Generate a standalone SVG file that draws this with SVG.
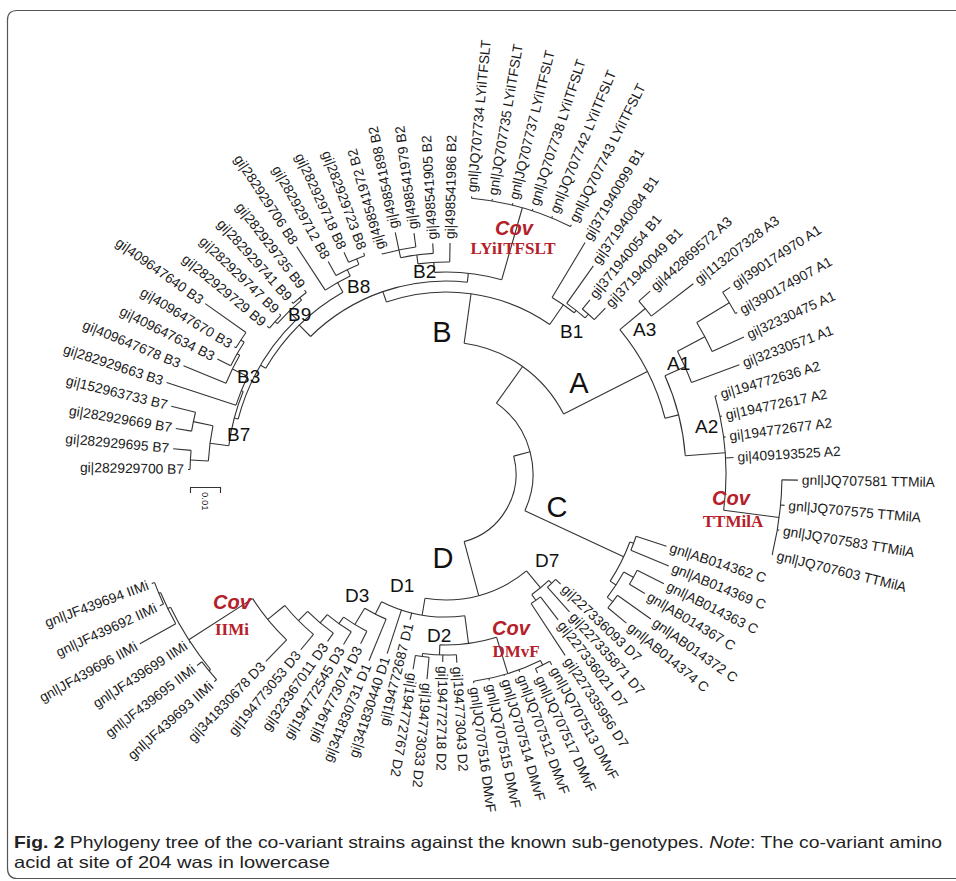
<svg xmlns="http://www.w3.org/2000/svg" width="956" height="881" viewBox="0 0 956 881">
<style>
.br line,.br circle{fill:none;stroke:#333;stroke-width:1.1}
.l{font-family:"Liberation Sans",Arial,sans-serif;font-size:13.8px;fill:#1a1a1a;dominant-baseline:central}
.e{text-anchor:end}
.cl{font-family:"Liberation Sans",Arial,sans-serif;font-size:29px;fill:#111;text-anchor:middle}
.sl{font-family:"Liberation Sans",Arial,sans-serif;font-size:19px;fill:#111}
.cov{font-family:"Liberation Sans",Arial,sans-serif;font-size:20px;font-weight:bold;font-style:italic;fill:#b5202a;text-anchor:middle}
.cv2{font-family:"Liberation Serif","Times New Roman",serif;font-size:17px;font-weight:bold;fill:#b5202a;text-anchor:middle}
.cap{font-family:"Liberation Sans",Arial,sans-serif;font-size:16.5px;fill:#222}
</style>
<rect width="956" height="881" fill="#fff"/>
<path d="M956,10.5 H17 Q7.5,10.5 7.5,20 V868 Q7.5,878.5 17,878.5 H956" fill="none" stroke="#555" stroke-width="1.2"/>
<g transform="translate(446,474)">
<g id="connectors" class="br">
<circle r="70" pathLength="360" stroke-dasharray="89.72 999" transform="rotate(-14.77)"/>
<circle r="87" pathLength="360" stroke-dasharray="79.54 999" transform="rotate(-54.54)"/>
<circle r="132" pathLength="360" stroke-dasharray="55.11 999" transform="rotate(-82.1)"/>
<circle r="182" pathLength="360" stroke-dasharray="53.85 999" transform="rotate(250.9)"/>
<circle r="193" pathLength="360" stroke-dasharray="50.92 999" transform="rotate(225.43)"/>
<circle r="209" pathLength="360" stroke-dasharray="30.06 999" transform="rotate(210.4)"/>
<circle r="215" pathLength="360" stroke-dasharray="31.2 999" transform="rotate(194.8)"/>
<circle r="219" pathLength="360" stroke-dasharray="14.73 999" transform="rotate(187.43)"/>
<circle r="238" pathLength="360" stroke-dasharray="8.57 999" transform="rotate(183.14)"/>
<circle r="256" pathLength="360" stroke-dasharray="4.29 999" transform="rotate(181)"/>
<circle r="258" pathLength="360" stroke-dasharray="4.29 999" transform="rotate(189.57)"/>
<circle r="221" pathLength="360" stroke-dasharray="8.04 999" transform="rotate(198.14)"/>
<circle r="238" pathLength="360" stroke-dasharray="7.5 999" transform="rotate(202.43)"/>
<circle r="241" pathLength="360" stroke-dasharray="6.43 999" transform="rotate(206.71)"/>
<circle r="245" pathLength="360" stroke-dasharray="4.29 999" transform="rotate(211)"/>
<circle r="226" pathLength="360" stroke-dasharray="8.58 999" transform="rotate(221.71)"/>
<circle r="229" pathLength="360" stroke-dasharray="4.29 999" transform="rotate(219.57)"/>
<circle r="229" pathLength="360" stroke-dasharray="4.29 999" transform="rotate(228.14)"/>
<circle r="220" pathLength="360" stroke-dasharray="7.49 999" transform="rotate(236.71)"/>
<circle r="227" pathLength="360" stroke-dasharray="6.43 999" transform="rotate(241)"/>
<circle r="233" pathLength="360" stroke-dasharray="4.28 999" transform="rotate(245.29)"/>
<circle r="202" pathLength="360" stroke-dasharray="19.3 999" transform="rotate(266.7)"/>
<circle r="212" pathLength="360" stroke-dasharray="8.6 999" transform="rotate(262.4)"/>
<circle r="221" pathLength="360" stroke-dasharray="8.57 999" transform="rotate(258.14)"/>
<circle r="229" pathLength="360" stroke-dasharray="8.57 999" transform="rotate(253.86)"/>
<circle r="277" pathLength="360" stroke-dasharray="21.42 999" transform="rotate(275.29)"/>
<circle r="206" pathLength="360" stroke-dasharray="7.5 999" transform="rotate(301)"/>
<circle r="209" pathLength="360" stroke-dasharray="6.42 999" transform="rotate(305.29)"/>
<circle r="214" pathLength="360" stroke-dasharray="4.29 999" transform="rotate(309.57)"/>
<circle r="226" pathLength="360" stroke-dasharray="25.44 999" transform="rotate(320.29)"/>
<circle r="259" pathLength="360" stroke-dasharray="4.29 999" transform="rotate(318.14)"/>
<circle r="240" pathLength="360" stroke-dasharray="19.82 999" transform="rotate(335.82)"/>
<circle r="262" pathLength="360" stroke-dasharray="7.5 999" transform="rotate(332.07)"/>
<circle r="293" pathLength="360" stroke-dasharray="6.43 999" transform="rotate(328.86)"/>
<circle r="331" pathLength="360" stroke-dasharray="4.29 999" transform="rotate(326.71)"/>
<circle r="280" pathLength="360" stroke-dasharray="23.57 999" transform="rotate(343.86)"/>
<circle r="336" pathLength="360" stroke-dasharray="12.86 999" transform="rotate(361)"/>
<circle r="196" pathLength="360" stroke-dasharray="12.85 999" transform="rotate(20.29)"/>
<circle r="200" pathLength="360" stroke-dasharray="4.29 999" transform="rotate(18.14)"/>
<circle r="203" pathLength="360" stroke-dasharray="8.57 999" transform="rotate(28.86)"/>
<circle r="214" pathLength="360" stroke-dasharray="4.29 999" transform="rotate(26.71)"/>
<circle r="210" pathLength="360" stroke-dasharray="4.28 999" transform="rotate(35.29)"/>
<circle r="126" pathLength="360" stroke-dasharray="49.31 999" transform="rotate(50.29)"/>
<circle r="148" pathLength="360" stroke-dasharray="8.57 999" transform="rotate(46)"/>
<circle r="152" pathLength="360" stroke-dasharray="4.28 999" transform="rotate(43.86)"/>
<circle r="155" pathLength="360" stroke-dasharray="4.28 999" transform="rotate(52.43)"/>
<circle r="171" pathLength="360" stroke-dasharray="19.28 999" transform="rotate(72.79)"/>
<circle r="209" pathLength="360" stroke-dasharray="19.29 999" transform="rotate(63.14)"/>
<circle r="214" pathLength="360" stroke-dasharray="4.29 999" transform="rotate(61)"/>
<circle r="181" pathLength="360" stroke-dasharray="10.72 999" transform="rotate(86.71)"/>
<circle r="184" pathLength="360" stroke-dasharray="4.28 999" transform="rotate(95.29)"/>
<circle r="143" pathLength="360" stroke-dasharray="34.37 999" transform="rotate(82.43)"/>
<circle r="157" pathLength="360" stroke-dasharray="8.77 999" transform="rotate(112.43)"/>
<circle r="176" pathLength="360" stroke-dasharray="8.89 999" transform="rotate(116.71)"/>
<circle r="184" pathLength="360" stroke-dasharray="9.2 999" transform="rotate(121)"/>
<circle r="195" pathLength="360" stroke-dasharray="9.91 999" transform="rotate(125.29)"/>
<circle r="208" pathLength="360" stroke-dasharray="11.23 999" transform="rotate(129.57)"/>
<circle r="230" pathLength="360" stroke-dasharray="13.34 999" transform="rotate(133.86)"/>
<circle r="306" pathLength="360" stroke-dasharray="13.91 999" transform="rotate(140.29)"/>
<circle r="308" pathLength="360" stroke-dasharray="4.29 999" transform="rotate(138.14)"/>
<circle r="309" pathLength="360" stroke-dasharray="6.43 999" transform="rotate(151)"/>
<circle r="311" pathLength="360" stroke-dasharray="4.28 999" transform="rotate(155.29)"/>
<line x1="70" x2="87" transform="rotate(-14.77)"/>
<line x1="70" x2="126" transform="rotate(74.95)"/>
<line x1="87" x2="132" transform="rotate(-54.54)"/>
<line x1="87" x2="196" transform="rotate(25)"/>
<line x1="132" x2="182" transform="rotate(277.9)"/>
<line x1="132" x2="226" transform="rotate(333.01)"/>
<line x1="182" x2="193" transform="rotate(250.9)"/>
<line x1="182" x2="206" transform="rotate(304.75)"/>
<line x1="193" x2="209" transform="rotate(225.43)"/>
<line x1="193" x2="202" transform="rotate(276.35)"/>
<line x1="209" x2="215" transform="rotate(210.4)"/>
<line x1="209" x2="220" transform="rotate(240.46)"/>
<line x1="215" x2="219" transform="rotate(194.8)"/>
<line x1="215" x2="226" transform="rotate(226)"/>
<line x1="219" x2="238" transform="rotate(187.43)"/>
<line x1="219" x2="221" transform="rotate(202.16)"/>
<line x1="238" x2="256" transform="rotate(183.14)"/>
<line x1="238" x2="258" transform="rotate(191.71)"/>
<line x1="256" x2="258" transform="rotate(181)"/>
<line x1="256" x2="274" transform="rotate(185.29)"/>
<line x1="258" x2="274" transform="rotate(189.57)"/>
<line x1="258" x2="283" transform="rotate(193.86)"/>
<line x1="221" x2="294" transform="rotate(198.14)"/>
<line x1="221" x2="238" transform="rotate(206.18)"/>
<line x1="238" x2="284" transform="rotate(202.43)"/>
<line x1="238" x2="241" transform="rotate(209.93)"/>
<line x1="241" x2="256" transform="rotate(206.71)"/>
<line x1="241" x2="245" transform="rotate(213.14)"/>
<line x1="245" x2="247" transform="rotate(211)"/>
<line x1="245" x2="295" transform="rotate(215.29)"/>
<line x1="226" x2="229" transform="rotate(221.71)"/>
<line x1="226" x2="229" transform="rotate(230.29)"/>
<line x1="229" x2="232" transform="rotate(219.57)"/>
<line x1="229" x2="231" transform="rotate(223.86)"/>
<line x1="229" x2="231" transform="rotate(228.14)"/>
<line x1="229" x2="232" transform="rotate(232.43)"/>
<line x1="220" x2="272" transform="rotate(236.71)"/>
<line x1="220" x2="227" transform="rotate(244.2)"/>
<line x1="227" x2="243" transform="rotate(241)"/>
<line x1="227" x2="233" transform="rotate(247.43)"/>
<line x1="233" x2="244" transform="rotate(245.29)"/>
<line x1="233" x2="236" transform="rotate(249.57)"/>
<line x1="202" x2="212" transform="rotate(266.7)"/>
<line x1="202" x2="277" transform="rotate(286)"/>
<line x1="212" x2="231" transform="rotate(271)"/>
<line x1="212" x2="221" transform="rotate(262.4)"/>
<line x1="221" x2="231" transform="rotate(266.71)"/>
<line x1="221" x2="229" transform="rotate(258.14)"/>
<line x1="229" x2="230" transform="rotate(253.86)"/>
<line x1="229" x2="247" transform="rotate(258.14)"/>
<line x1="229" x2="243" transform="rotate(262.43)"/>
<line x1="277" x2="279" transform="rotate(275.29)"/>
<line x1="277" x2="279" transform="rotate(279.57)"/>
<line x1="277" x2="279" transform="rotate(283.86)"/>
<line x1="277" x2="279" transform="rotate(288.14)"/>
<line x1="277" x2="279" transform="rotate(292.43)"/>
<line x1="277" x2="279" transform="rotate(296.71)"/>
<line x1="206" x2="270" transform="rotate(301)"/>
<line x1="206" x2="209" transform="rotate(308.5)"/>
<line x1="209" x2="255" transform="rotate(305.29)"/>
<line x1="209" x2="214" transform="rotate(311.71)"/>
<line x1="214" x2="226" transform="rotate(309.57)"/>
<line x1="214" x2="230" transform="rotate(313.86)"/>
<line x1="226" x2="259" transform="rotate(320.29)"/>
<line x1="226" x2="240" transform="rotate(345.73)"/>
<line x1="259" x2="274" transform="rotate(318.14)"/>
<line x1="259" x2="312" transform="rotate(322.43)"/>
<line x1="240" x2="262" transform="rotate(335.82)"/>
<line x1="240" x2="280" transform="rotate(355.64)"/>
<line x1="262" x2="313" transform="rotate(339.57)"/>
<line x1="262" x2="293" transform="rotate(332.07)"/>
<line x1="293" x2="328" transform="rotate(335.29)"/>
<line x1="293" x2="331" transform="rotate(328.86)"/>
<line x1="331" x2="340" transform="rotate(326.71)"/>
<line x1="331" x2="333" transform="rotate(331)"/>
<line x1="280" x2="282" transform="rotate(343.86)"/>
<line x1="280" x2="282" transform="rotate(348.14)"/>
<line x1="280" x2="282" transform="rotate(352.43)"/>
<line x1="280" x2="288" transform="rotate(356.71)"/>
<line x1="280" x2="336" transform="rotate(367.43)"/>
<line x1="336" x2="352" transform="rotate(361)"/>
<line x1="336" x2="340" transform="rotate(365.29)"/>
<line x1="336" x2="338" transform="rotate(369.57)"/>
<line x1="336" x2="337" transform="rotate(373.86)"/>
<line x1="196" x2="200" transform="rotate(20.29)"/>
<line x1="196" x2="203" transform="rotate(33.14)"/>
<line x1="200" x2="232" transform="rotate(18.14)"/>
<line x1="200" x2="241" transform="rotate(22.43)"/>
<line x1="203" x2="214" transform="rotate(28.86)"/>
<line x1="203" x2="210" transform="rotate(37.43)"/>
<line x1="214" x2="244" transform="rotate(26.71)"/>
<line x1="214" x2="232" transform="rotate(31)"/>
<line x1="210" x2="251" transform="rotate(35.29)"/>
<line x1="210" x2="234" transform="rotate(39.57)"/>
<line x1="126" x2="148" transform="rotate(50.29)"/>
<line x1="126" x2="143" transform="rotate(99.6)"/>
<line x1="143" x2="171" transform="rotate(82.43)"/>
<line x1="148" x2="152" transform="rotate(46)"/>
<line x1="148" x2="155" transform="rotate(54.57)"/>
<line x1="152" x2="159" transform="rotate(43.86)"/>
<line x1="152" x2="185" transform="rotate(48.14)"/>
<line x1="155" x2="184" transform="rotate(52.43)"/>
<line x1="155" x2="217" transform="rotate(56.71)"/>
<line x1="171" x2="209" transform="rotate(72.79)"/>
<line x1="171" x2="181" transform="rotate(92.07)"/>
<line x1="209" x2="214" transform="rotate(63.14)"/>
<line x1="214" x2="218" transform="rotate(61)"/>
<line x1="214" x2="219" transform="rotate(65.29)"/>
<line x1="209" x2="211" transform="rotate(69.57)"/>
<line x1="209" x2="210" transform="rotate(73.86)"/>
<line x1="209" x2="211" transform="rotate(78.14)"/>
<line x1="209" x2="211" transform="rotate(82.43)"/>
<line x1="181" x2="189" transform="rotate(86.71)"/>
<line x1="181" x2="188" transform="rotate(91)"/>
<line x1="181" x2="184" transform="rotate(97.43)"/>
<line x1="184" x2="206" transform="rotate(95.29)"/>
<line x1="184" x2="198" transform="rotate(99.57)"/>
<line x1="143" x2="150" transform="rotate(103.86)"/>
<line x1="143" x2="189" transform="rotate(108.14)"/>
<line x1="143" x2="157" transform="rotate(116.8)"/>
<line x1="157" x2="202" transform="rotate(112.43)"/>
<line x1="157" x2="176" transform="rotate(121.2)"/>
<line x1="176" x2="190" transform="rotate(116.71)"/>
<line x1="176" x2="184" transform="rotate(125.6)"/>
<line x1="184" x2="199" transform="rotate(121)"/>
<line x1="184" x2="195" transform="rotate(130.2)"/>
<line x1="195" x2="205" transform="rotate(125.29)"/>
<line x1="195" x2="208" transform="rotate(135.2)"/>
<line x1="208" x2="228" transform="rotate(129.57)"/>
<line x1="208" x2="230" transform="rotate(140.8)"/>
<line x1="230" x2="260" transform="rotate(133.86)"/>
<line x1="230" x2="306" transform="rotate(147.2)"/>
<line x1="306" x2="308" transform="rotate(140.29)"/>
<line x1="308" x2="311" transform="rotate(138.14)"/>
<line x1="308" x2="314" transform="rotate(142.43)"/>
<line x1="306" x2="307" transform="rotate(146.71)"/>
<line x1="306" x2="309" transform="rotate(154.2)"/>
<line x1="309" x2="350" transform="rotate(151)"/>
<line x1="309" x2="311" transform="rotate(157.43)"/>
<line x1="311" x2="315" transform="rotate(155.29)"/>
<line x1="311" x2="314" transform="rotate(159.57)"/>
</g>
<g id="leaf00"><text class="l e" transform="rotate(1) translate(-262)">gi|282929700 B7</text></g>
<g id="leaf01"><text class="l e" transform="rotate(5.29) translate(-278)">gi|282929695 B7</text></g>
<g id="leaf02"><text class="l e" transform="rotate(9.57) translate(-278)">gi|282929669 B7</text></g>
<g id="leaf03"><text class="l e" transform="rotate(13.86) translate(-287)">gi|152963733 B7</text></g>
<g id="leaf04"><text class="l e" transform="rotate(18.14) translate(-298)">gi|282929663 B3</text></g>
<g id="leaf05"><text class="l e" transform="rotate(22.43) translate(-288)">gi|409647678 B3</text></g>
<g id="leaf06"><text class="l e" transform="rotate(26.71) translate(-260)">gi|409647634 B3</text></g>
<g id="leaf07"><text class="l e" transform="rotate(31) translate(-251)">gi|409647670 B3</text></g>
<g id="leaf08"><text class="l e" transform="rotate(35.29) translate(-299)">gi|409647640 B3</text></g>
<g id="leaf09"><text class="l e" transform="rotate(39.57) translate(-236)">gi|282929729 B9</text></g>
<g id="leaf10"><text class="l e" transform="rotate(43.86) translate(-235)">gi|282929747 B9</text></g>
<g id="leaf11"><text class="l e" transform="rotate(48.14) translate(-235)">gi|282929741 B9</text></g>
<g id="leaf12"><text class="l e" transform="rotate(52.43) translate(-236)">gi|282929735 B9</text></g>
<g id="leaf13"><text class="l e" transform="rotate(56.71) translate(-276)">gi|282929706 B8</text></g>
<g id="leaf14"><text class="l e" transform="rotate(61) translate(-247)">gi|282929712 B8</text></g>
<g id="leaf15"><text class="l e" transform="rotate(65.29) translate(-248)">gi|282929718 B8</text></g>
<g id="leaf16"><text class="l e" transform="rotate(69.57) translate(-240)">gi|282929723 B8</text></g>
<g id="leaf17"><text class="l" transform="rotate(253.86) translate(234)">gi|498541972 B2</text></g>
<g id="leaf18"><text class="l" transform="rotate(258.14) translate(251)">gi|498541898 B2</text></g>
<g id="leaf19"><text class="l" transform="rotate(262.43) translate(247)">gi|498541979 B2</text></g>
<g id="leaf20"><text class="l" transform="rotate(266.71) translate(235)">gi|498541905 B2</text></g>
<g id="leaf21"><text class="l" transform="rotate(271) translate(235)">gi|498541986 B2</text></g>
<g id="leaf22"><text class="l" transform="rotate(275.29) translate(283)">gnl|JQ707734 LYiITFSLT</text></g>
<g id="leaf23"><text class="l" transform="rotate(279.57) translate(283)">gnl|JQ707735 LYiITFSLT</text></g>
<g id="leaf24"><text class="l" transform="rotate(283.86) translate(283)">gnl|JQ707737 LYiITFSLT</text></g>
<g id="leaf25"><text class="l" transform="rotate(288.14) translate(283)">gnl|JQ707738 LYiITFSLT</text></g>
<g id="leaf26"><text class="l" transform="rotate(292.43) translate(283)">gnl|JQ707742 LYiITFSLT</text></g>
<g id="leaf27"><text class="l" transform="rotate(296.71) translate(283)">gnl|JQ707743 LYiITFSLT</text></g>
<g id="leaf28"><text class="l" transform="rotate(301) translate(274)">gi|371940099 B1</text></g>
<g id="leaf29"><text class="l" transform="rotate(305.29) translate(259)">gi|371940084 B1</text></g>
<g id="leaf30"><text class="l" transform="rotate(309.57) translate(230)">gi|371940054 B1</text></g>
<g id="leaf31"><text class="l" transform="rotate(313.86) translate(234)">gi|371940049 B1</text></g>
<g id="leaf32"><text class="l" transform="rotate(318.14) translate(278)">gi|442869572 A3</text></g>
<g id="leaf33"><text class="l" transform="rotate(322.43) translate(316)">gi|113207328 A3</text></g>
<g id="leaf34"><text class="l" transform="rotate(326.71) translate(344)">gi|390174970 A1</text></g>
<g id="leaf35"><text class="l" transform="rotate(331) translate(337)">gi|390174907 A1</text></g>
<g id="leaf36"><text class="l" transform="rotate(335.29) translate(332)">gi|32330475 A1</text></g>
<g id="leaf37"><text class="l" transform="rotate(339.57) translate(317)">gi|32330571 A1</text></g>
<g id="leaf38"><text class="l" transform="rotate(343.86) translate(286)">gi|194772636 A2</text></g>
<g id="leaf39"><text class="l" transform="rotate(348.14) translate(286)">gi|194772617 A2</text></g>
<g id="leaf40"><text class="l" transform="rotate(352.43) translate(286)">gi|194772677 A2</text></g>
<g id="leaf41"><text class="l" transform="rotate(356.71) translate(292)">gi|409193525 A2</text></g>
<g id="leaf42"><text class="l" transform="rotate(1) translate(356)">gnl|JQ707581 TTMilA</text></g>
<g id="leaf43"><text class="l" transform="rotate(5.29) translate(344)">gnl|JQ707575 TTMilA</text></g>
<g id="leaf44"><text class="l" transform="rotate(9.57) translate(342)">gnl|JQ707583 TTMilA</text></g>
<g id="leaf45"><text class="l" transform="rotate(13.86) translate(341)">gnl|JQ707603 TTMilA</text></g>
<g id="leaf46"><text class="l" transform="rotate(18.14) translate(236)">gnl|AB014362 C</text></g>
<g id="leaf47"><text class="l" transform="rotate(22.43) translate(245)">gnl|AB014369 C</text></g>
<g id="leaf48"><text class="l" transform="rotate(26.71) translate(248)">gnl|AB014363 C</text></g>
<g id="leaf49"><text class="l" transform="rotate(31) translate(236)">gnl|AB014367 C</text></g>
<g id="leaf50"><text class="l" transform="rotate(35.29) translate(255)">gnl|AB014372 C</text></g>
<g id="leaf51"><text class="l" transform="rotate(39.57) translate(238)">gnl|AB014374 C</text></g>
<g id="leaf52"><text class="l" transform="rotate(43.86) translate(163)">gi|227336093 D7</text></g>
<g id="leaf53"><text class="l" transform="rotate(48.14) translate(189)">gi|227335871 D7</text></g>
<g id="leaf54"><text class="l" transform="rotate(52.43) translate(188)">gi|227336021 D7</text></g>
<g id="leaf55"><text class="l" transform="rotate(56.71) translate(221)">gi|227335956 D7</text></g>
<g id="leaf56"><text class="l" transform="rotate(61) translate(222)">gnl|JQ707513 DMvF</text></g>
<g id="leaf57"><text class="l" transform="rotate(65.29) translate(223)">gnl|JQ707517 DMvF</text></g>
<g id="leaf58"><text class="l" transform="rotate(69.57) translate(215)">gnl|JQ707512 DMvF</text></g>
<g id="leaf59"><text class="l" transform="rotate(73.86) translate(214)">gnl|JQ707514 DMvF</text></g>
<g id="leaf60"><text class="l" transform="rotate(78.14) translate(215)">gnl|JQ707515 DMvF</text></g>
<g id="leaf61"><text class="l" transform="rotate(82.43) translate(215)">gnl|JQ707516 DMvF</text></g>
<g id="leaf62"><text class="l" transform="rotate(86.71) translate(193)">gi|194773043 D2</text></g>
<g id="leaf63"><text class="l" transform="rotate(91) translate(192)">gi|194772718 D2</text></g>
<g id="leaf64"><text class="l" transform="rotate(95.29) translate(210)">gi|194773033 D2</text></g>
<g id="leaf65"><text class="l" transform="rotate(99.57) translate(202)">gi|194772767 D2</text></g>
<g id="leaf66"><text class="l e" transform="rotate(-76.14) translate(-154)">gi|194772687 D1</text></g>
<g id="leaf67"><text class="l e" transform="rotate(-71.86) translate(-193)">gi|341830440 D1</text></g>
<g id="leaf68"><text class="l e" transform="rotate(-67.57) translate(-206)">gi|341830731 D1</text></g>
<g id="leaf69"><text class="l e" transform="rotate(-63.29) translate(-194)">gi|194773074 D3</text></g>
<g id="leaf70"><text class="l e" transform="rotate(-59) translate(-203)">gi|194772545 D3</text></g>
<g id="leaf71"><text class="l e" transform="rotate(-54.71) translate(-209)">gi|323367011 D3</text></g>
<g id="leaf72"><text class="l e" transform="rotate(-50.43) translate(-232)">gi|194773053 D3</text></g>
<g id="leaf73"><text class="l e" transform="rotate(-46.14) translate(-264)">gi|341830678 D3</text></g>
<g id="leaf74"><text class="l e" transform="rotate(-41.86) translate(-315)">gnl|JF439693 IIMi</text></g>
<g id="leaf75"><text class="l e" transform="rotate(-37.57) translate(-318)">gnl|JF439695 IIMi</text></g>
<g id="leaf76"><text class="l e" transform="rotate(-33.29) translate(-311)">gnl|JF439699 IIMi</text></g>
<g id="leaf77"><text class="l e" transform="rotate(-29) translate(-354)">gnl|JF439696 IIMi</text></g>
<g id="leaf78"><text class="l e" transform="rotate(-24.71) translate(-319)">gnl|JF439692 IIMi</text></g>
<g id="leaf79"><text class="l e" transform="rotate(-20.43) translate(-318)">gnl|JF439694 IIMi</text></g>
</g>
<g id="clade-A"><text class="cl" x="579" y="393">A</text></g>
<g id="clade-B"><text class="cl" x="442" y="342">B</text></g>
<g id="clade-C"><text class="cl" x="557" y="517">C</text></g>
<g id="clade-D"><text class="cl" x="443" y="568">D</text></g>
<g id="clade-B1"><text class="sl" x="560" y="338">B1</text></g>
<g id="clade-A3"><text class="sl" x="633" y="336">A3</text></g>
<g id="clade-A1"><text class="sl" x="667" y="370">A1</text></g>
<g id="clade-A2"><text class="sl" x="695" y="433">A2</text></g>
<g id="clade-B2"><text class="sl" x="413" y="278">B2</text></g>
<g id="clade-B8"><text class="sl" x="347" y="293">B8</text></g>
<g id="clade-B9"><text class="sl" x="288" y="321">B9</text></g>
<g id="clade-B3"><text class="sl" x="237" y="383">B3</text></g>
<g id="clade-B7"><text class="sl" x="227" y="441">B7</text></g>
<g id="clade-D7"><text class="sl" x="535" y="567">D7</text></g>
<g id="clade-D1"><text class="sl" x="390" y="592">D1</text></g>
<g id="clade-D3"><text class="sl" x="345" y="602">D3</text></g>
<g id="clade-D2"><text class="sl" x="427" y="642">D2</text></g>
<g id="cov-LY"><text class="cov" x="514" y="235">Cov</text><text class="cv2" x="513" y="254">LYiITFSLT</text></g>
<g id="cov-TT"><text class="cov" x="731" y="505">Cov</text><text class="cv2" x="733" y="527">TTMilA</text></g>
<g id="cov-DM"><text class="cov" x="511" y="635">Cov</text><text class="cv2" x="516" y="657">DMvF</text></g>
<g id="cov-II"><text class="cov" x="232" y="609">Cov</text><text class="cv2" x="232" y="635">IIMi</text></g>
<g id="scale">
<path d="M190.5,493 V487.5 H220.5 V493" fill="none" stroke="#333" stroke-width="1.1"/>
<text transform="translate(201.5,492) rotate(90)" font-family="Liberation Sans,Arial,sans-serif" font-size="9.5" fill="#222">0.01</text>
</g>
<g id="caption">
<text class="cap" x="14" y="848" textLength="928" lengthAdjust="spacingAndGlyphs"><tspan font-weight="bold">Fig. 2</tspan>  Phylogeny tree of the co-variant strains against the known sub-genotypes. <tspan font-style="italic">Note</tspan>: The co-variant amino</text>
<text class="cap" x="14" y="868" textLength="316" lengthAdjust="spacingAndGlyphs">acid at site of 204 was in lowercase</text>
</g>
</svg>
